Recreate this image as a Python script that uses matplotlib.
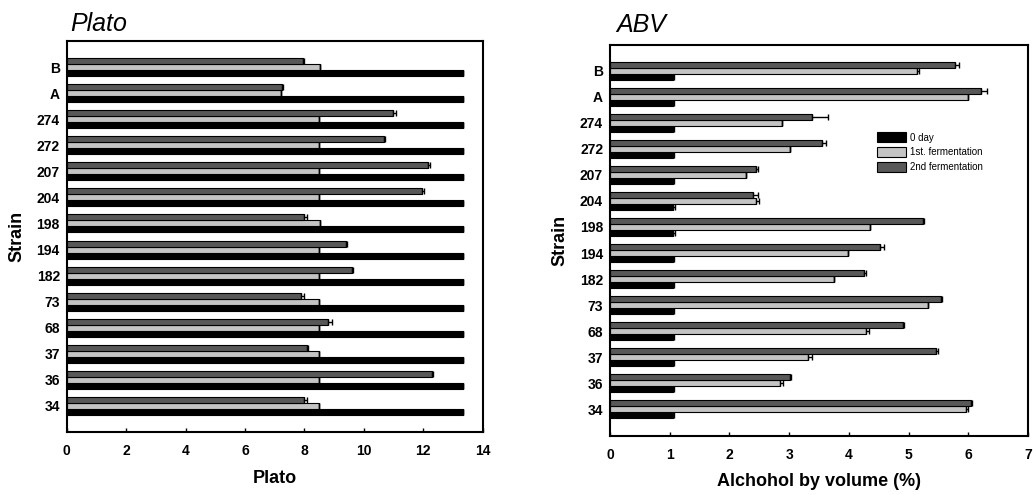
import numpy as np
import matplotlib
matplotlib.use("Agg")
import matplotlib.pyplot as plt

plt.rcParams['font.family'] = ['Liberation Sans', 'DejaVu Sans']

# strains, listed bottom to top
strains = ["34", "36", "37", "68", "73", "182", "194", "198", "204", "207", "272", "274", "A", "B"]

# Plato
plato_day0 = [13.32, 13.32, 13.32, 13.32, 13.32, 13.32, 13.32, 13.32, 13.32, 13.32, 13.32, 13.32, 13.32, 13.32]
plato_1st = [8.5, 8.5, 8.5, 8.5, 8.5, 8.5, 8.5, 8.53, 8.5, 8.5, 8.5, 8.5, 7.2, 8.53]
plato_2nd = [8.0, 12.28, 8.1, 8.8, 7.9, 9.6, 9.4, 8.0, 11.96, 12.16, 10.68, 10.98, 7.24, 7.94]
plato_2nd_err = [0.08, 0.03, 0.03, 0.12, 0.08, 0.03, 0.03, 0.08, 0.08, 0.08, 0.03, 0.1, 0.03, 0.05]
plato_day0_err = [0.03] * 14

# ABV
abv_day0 = [1.05, 1.05, 1.05, 1.05, 1.05, 1.05, 1.05, 1.05, 1.05, 1.05, 1.05, 1.05, 1.05, 1.05]
abv_1st = [5.96, 2.84, 3.31, 4.28, 5.33, 3.75, 3.99, 4.36, 2.45, 2.28, 3.02, 2.88, 6.0, 5.15]
abv_2nd = [6.04, 3.02, 5.46, 4.9, 5.54, 4.25, 4.52, 5.24, 2.4, 2.45, 3.55, 3.39, 6.21, 5.78]
abv_1st_err = [0.03, 0.05, 0.08, 0.05, 0.0, 0.0, 0.0, 0.0, 0.04, 0.0, 0.0, 0.0, 0.0, 0.03]
abv_2nd_err = [0.02, 0.02, 0.03, 0.02, 0.02, 0.03, 0.07, 0.02, 0.08, 0.03, 0.07, 0.26, 0.1, 0.06]
abv_day0_err = [0.03, 0.03, 0.03, 0.03, 0.03, 0.03, 0.03, 0.04, 0.04, 0.03, 0.03, 0.03, 0.03, 0.03]

labels = ["0 day", "1st. fermentation", "2nd fermentation"]
colors = ["#000000", "#c4c4c4", "#585858"]

y = np.arange(len(strains))
h = 0.23
zeros = np.zeros(len(strains))
err_kw = dict(ecolor="black", elinewidth=1, capsize=2.5, capthick=1)

fig = plt.figure(figsize=(10.33, 4.95), dpi=100)
ax1 = fig.add_axes([0.0646, 0.1273, 0.4027, 0.7899])
ax2 = fig.add_axes([0.5905, 0.1202, 0.4046, 0.7899])


def draw(ax, d0, d1, d2, e0, e1, e2):
    ax.barh(y - h, d0, height=h, color=colors[0], edgecolor="black", linewidth=0.8,
            xerr=[zeros, e0], error_kw=err_kw, label=labels[0])
    ax.barh(y, d1, height=h, color=colors[1], edgecolor="black", linewidth=0.8,
            xerr=[zeros, e1], error_kw=err_kw, label=labels[1])
    ax.barh(y + h, d2, height=h, color=colors[2], edgecolor="black", linewidth=0.8,
            xerr=[zeros, e2], error_kw=err_kw, label=labels[2])
    ax.set_ylim(-1, 14)
    ax.set_yticks(y)
    ax.set_yticklabels(strains)
    ax.tick_params(axis="y", length=0, pad=5, labelsize=10)
    ax.tick_params(axis="x", direction="in", length=3, width=1, pad=9, labelsize=10)
    for lab in ax.get_xticklabels() + ax.get_yticklabels():
        lab.set_fontweight("bold")
    for s in ax.spines.values():
        s.set_linewidth(1.5)


draw(ax1, plato_day0, plato_1st, plato_2nd, plato_day0_err, zeros, plato_2nd_err)
ax1.set_xlim(0, 14)
ax1.set_xticks(range(0, 15, 2))
ax1.set_xlabel("Plato", fontsize=13, fontweight="bold", labelpad=8)
ax1.set_ylabel("Strain", fontsize=13, fontweight="bold", labelpad=8)
ax1.set_title("Plato", fontsize=18, style="italic", loc="left", pad=7, x=0.008)

draw(ax2, abv_day0, abv_1st, abv_2nd, abv_day0_err, abv_1st_err, abv_2nd_err)
ax2.set_xlim(0, 7)
ax2.set_xticks(range(0, 8))
ax2.set_xlabel("Alchohol by volume (%)", fontsize=13, fontweight="bold", labelpad=8)
ax2.set_ylabel("Strain", fontsize=13, fontweight="bold", labelpad=8)
ax2.set_title("ABV", fontsize=18, style="italic", loc="left", pad=9, x=0.016)
ax2.legend(loc="upper left", bbox_to_anchor=(0.64, 0.775), frameon=False, fontsize=7,
           handlelength=2.9, handleheight=1.2, handletextpad=0.4, labelspacing=0.45,
           borderpad=0, borderaxespad=0)

fig.savefig("out.png", dpi=100)
